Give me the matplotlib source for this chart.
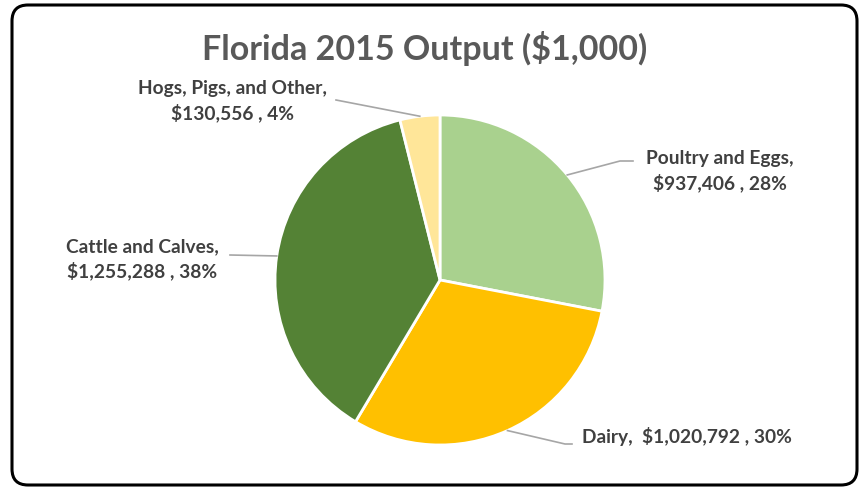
import numpy as np
import matplotlib
matplotlib.use('Agg')
import matplotlib.pyplot as plt
from matplotlib.patches import FancyBboxPatch

plt.rcParams['font.family'] = ['Lato', 'DejaVu Sans']

categories = ['Poultry and Eggs', 'Dairy', 'Cattle and Calves', 'Hogs, Pigs, and Other']
values = [937406, 1020792, 1255288, 130556]
pct_labels = ['28%', '30%', '38%', '4%']
colors = ['#A9D18E', '#FFC000', '#548235', '#FFE699']

W, H = 863, 489
fig = plt.figure(figsize=(W / 100, H / 100), dpi=100)
ax = fig.add_axes([0, 0, 1, 1])

# rounded chart frame
frame = FancyBboxPatch((12, 3), 845, 480, boxstyle='round,pad=0,rounding_size=16',
                       transform=ax.transData, fill=False, edgecolor='black', linewidth=2.2,
                       clip_on=False)

cx, cy, r = 440, H - 281, 165
wedges, _ = ax.pie(values, colors=colors, startangle=90, counterclock=False,
                   center=(cx, cy), radius=r, frame=True,
                   wedgeprops=dict(edgecolor='white', linewidth=2))
ax.set_xlim(0, W)
ax.set_ylim(0, H)
ax.set_aspect('equal')
ax.axis('off')
ax.add_patch(frame)

ax.text(425, H - 49, 'Florida 2015 Output ($1,000)', ha='center', va='center',
        fontsize=24.5, fontweight='bold', color='#595959')

labels = [f'{c},\n${v:,} , {p}' for c, v, p in zip(categories, values, pct_labels)]
labels[1] = f'{categories[1]},  ${values[1]:,} , {pct_labels[1]}'

# text centre and leader end point (pixels from top-left)
text_pos = [(720, 171), (687, 437), (142, 259), (232, 101)]
line_end = [[(620, 162), (633, 162)], [(565, 445), (572, 445)],
            [(230, 256)], [(336, 101)]]

for w, lab, (tx, ty), ends in zip(wedges, labels, text_pos, line_end):
    mid = np.deg2rad((w.theta1 + w.theta2) / 2)
    sx, sy = cx + r * np.cos(mid), cy + r * np.sin(mid)
    xs = [sx] + [e[0] for e in ends]
    ys = [sy] + [H - e[1] for e in ends]
    ax.plot(xs, ys, color='#A6A6A6', linewidth=1.2)
    ax.text(tx, H - ty, lab, ha='center', va='center', fontsize=13.8,
            fontweight='bold', color='#404040', linespacing=1.38)

fig.savefig('out.png', dpi=100)
